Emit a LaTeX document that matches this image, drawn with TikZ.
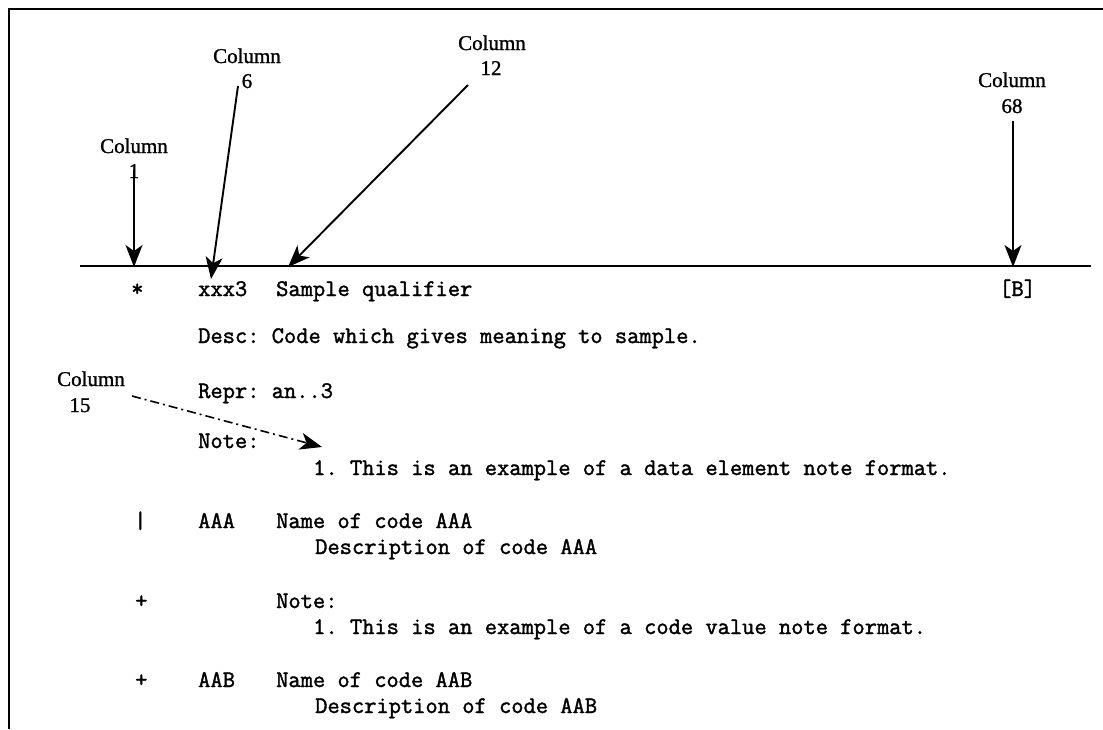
\documentclass[tikz,border=0pt]{standalone}
\usepackage{fontspec}
\setmainfont{Liberation Serif}[FakeBold=1.2]
\setmonofont{Latin Modern Mono}[FakeBold=1.6]
\usetikzlibrary{arrows.meta}
\begin{document}
\begin{tikzpicture}[x=1pt,y=-1pt,
  mono/.style={anchor=base west,inner sep=0pt,font=\ttfamily\fontsize{23.8}{26}\selectfont},
  lbl/.style={anchor=base,inner sep=0pt,font=\fontsize{21}{26}\selectfont},
  arr/.style={line width=1.9pt,-{Stealth[length=22pt,width=17pt,inset=6pt]}},
  dasharr/.style={line width=1.6pt,dash pattern=on 9pt off 4pt on 2pt off 4pt,-{Stealth[length=22pt,width=17pt,inset=6pt]}},
  rule/.style={line width=1.9pt}]
\useasboundingbox (0,0) rectangle (1103,729);
\draw[rule] (1103,9) -- (9,9) -- (9,729);
\coordinate (ruleL) at (80,266);
\coordinate (ruleR) at (1091,266);
\draw[rule] (ruleL) -- (ruleR);

% labels
\node[lbl] (c1) at (134,153) {Column};
\node[lbl] (c1n) at (134,178) {1};
\node[lbl] (c6) at (247,63) {Column};
\node[lbl] (c6n) at (247,88) {6};
\node[lbl] (c12) at (492,50) {Column};
\node[lbl] (c12n) at (491,75) {12};
\node[lbl] (c68) at (1012,87) {Column};
\node[lbl] (c68n) at (1012,113) {68};
\node[lbl] (c15) at (91,386) {Column};
\node[lbl] (c15n) at (80,412) {15};

% arrows
\coordinate (a1s) at (134,170);  \coordinate (a1e) at (134,267);
\coordinate (a6s) at (238,86);   \coordinate (a6e) at (211,279);
\coordinate (a12s) at (468,85);  \coordinate (a12e) at (288,267);
\coordinate (a68s) at (1013,121);\coordinate (a68e) at (1013,267);
\coordinate (a15s) at (132,396); \coordinate (a15e) at (322,447);
\draw[arr] (a1s) -- (a1e);
\draw[arr] (a6s) -- (a6e);
\draw[arr] (a12s) -- (a12e);
\draw[arr] (a68s) -- (a68e);
\draw[dasharr] (a15s) -- (a15e);

% text
\node[mono] (t1a) at (131,296) {*};
\node[mono] (t1b) at (198,296) {xxx3};
\node[mono] (t1c) at (276,296) {Sample qualifier};
\node[mono] (t1d) at (999,296) {[B]};
\node[mono] (t2) at (198,343) {Desc: Code which gives meaning to sample.};
\node[mono] (t3) at (198,398) {Repr: an..3};
\node[mono] (t4) at (198,448) {Note:};
\node[mono] (t5) at (313,475) {1. This is an example of a data element note format.};
\node[mono] (t6a) at (134,528) {|};
\node[mono] (t6b) at (198,528) {AAA};
\node[mono] (t6c) at (276,528) {Name of code AAA};
\node[mono] (t7) at (315,554) {Description of code AAA};
\node[mono] (t8a) at (135,608) {+};
\node[mono] (t8b) at (276,608) {Note:};
\node[mono] (t9) at (313,634) {1. This is an example of a code value note format.};
\node[mono] (t10a) at (135,687) {+};
\node[mono] (t10b) at (198,687) {AAB};
\node[mono] (t10c) at (276,687) {Name of code AAB};
\node[mono] (t11) at (315,713) {Description of code AAB};
\end{tikzpicture}
\end{document}
